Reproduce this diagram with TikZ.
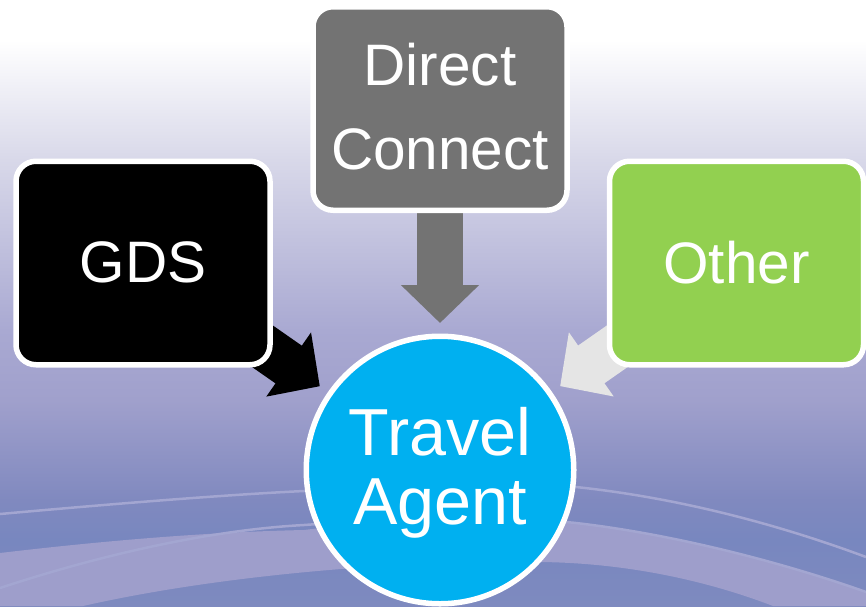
\documentclass[tikz,border=0pt]{standalone}
\usepackage{fontspec}
\setmainfont{Liberation Sans}
\usetikzlibrary{arrows.meta}
\pgfdeclarelayer{bg}
\pgfdeclarelayer{arrowlayer}
\pgfsetlayers{bg,arrowlayer,main}
\definecolor{gA}{HTML}{FFFFFF}
\definecolor{gB}{HTML}{D8D8E9}
\definecolor{gC}{HTML}{A9A9D2}
\definecolor{gC2}{HTML}{A0A0CC}
\definecolor{gD}{HTML}{8089BF}
\definecolor{gE}{HTML}{7887BF}
\definecolor{gF}{HTML}{7E8ABF}
\definecolor{bandc}{HTML}{9E9ECB}
\definecolor{linec}{HTML}{A3A6D1}
\definecolor{greyc}{HTML}{737373}
\definecolor{greenc}{HTML}{92D050}
\definecolor{bluec}{HTML}{00B0F0}
\definecolor{palec}{HTML}{E5E5E5}
\tikzset{
  boxnode/.style={draw=white,line width=5.5pt,rounded corners=20pt,text=white,inner sep=0pt,outer sep=0pt,
    minimum width=254pt,minimum height=203.5pt,align=center,font=\fontsize{58.5}{84}\selectfont},
  circnode/.style={circle,draw=white,line width=5.5pt,fill=bluec,text=white,inner sep=0pt,outer sep=0pt,
    minimum size=267.5pt,align=center,font=\fontsize{66.5}{69}\selectfont},
  blockarrow/.style={line width=46pt,-{Triangle[length=38pt,width=76pt]},shorten >=#1},
  thinline/.style={draw=linec,line width=2.5pt}
}
\begin{document}
\begin{tikzpicture}[x=1pt,y=-1pt]
\useasboundingbox (0,0) rectangle (866,606);
\clip (0,0) rectangle (866,606);
\node[boxnode,fill=black] (gds) at (143,263) {GDS\rule[-2pt]{0pt}{1pt}};
\node[boxnode,fill=greyc] (direct) at (440,108.5) {Direct\\Connect\rule[-5pt]{0pt}{1pt}};
\node[boxnode,fill=greenc] (other) at (736.5,263) {Other\rule[-2pt]{0pt}{1pt}};
\node[circnode] (agent) at (440,470) {\rule{0pt}{53pt}Travel\\Agent};
\begin{pgfonlayer}{bg}
  \fill[white] (0,0) rectangle (866,41);
  \shade[top color=gA,bottom color=gB] (0,40) rectangle (866,160.5);
  \shade[top color=gB,bottom color=gC] (0,160) rectangle (866,330.5);
  \shade[top color=gC,bottom color=gC2] (0,330) rectangle (866,400.5);
  \shade[top color=gC2,bottom color=gD] (0,400) rectangle (866,500.5);
  \shade[top color=gD,bottom color=gE] (0,500) rectangle (866,540.5);
  \shade[top color=gE,bottom color=gF] (0,540) rectangle (866,606);
  \fill[bandc] (0,553) .. controls (110,540) and (210,532) .. (304,530)
     .. controls (400,518) and (500,515) .. (576,523)
     .. controls (680,535) and (790,565) .. (866,592)
     -- (866,606) -- (773,606) .. controls (700,578) and (620,563) .. (541,562)
     .. controls (400,560) and (220,575) .. (83,606) -- (0,606) -- cycle;
  \draw[thinline] (0,514) .. controls (100,505) and (220,495) .. (304,491)
     .. controls (400,483) and (500,480) .. (576,487)
     .. controls (680,498) and (780,525) .. (866,557);
  \draw[thinline] (0,588) .. controls (100,555) and (210,530) .. (304,525)
     .. controls (400,518) and (500,515) .. (576,523)
     .. controls (680,535) and (790,565) .. (866,592);
\end{pgfonlayer}
\begin{pgfonlayer}{arrowlayer}
  \draw[blockarrow=146.5pt,black] (gds.center) -- (agent.center);
  \draw[blockarrow=147pt,greyc] (direct.center) -- (agent.center);
  \draw[blockarrow=146.5pt,palec] (other.center) -- (agent.center);
\end{pgfonlayer}
\end{tikzpicture}
\end{document}
